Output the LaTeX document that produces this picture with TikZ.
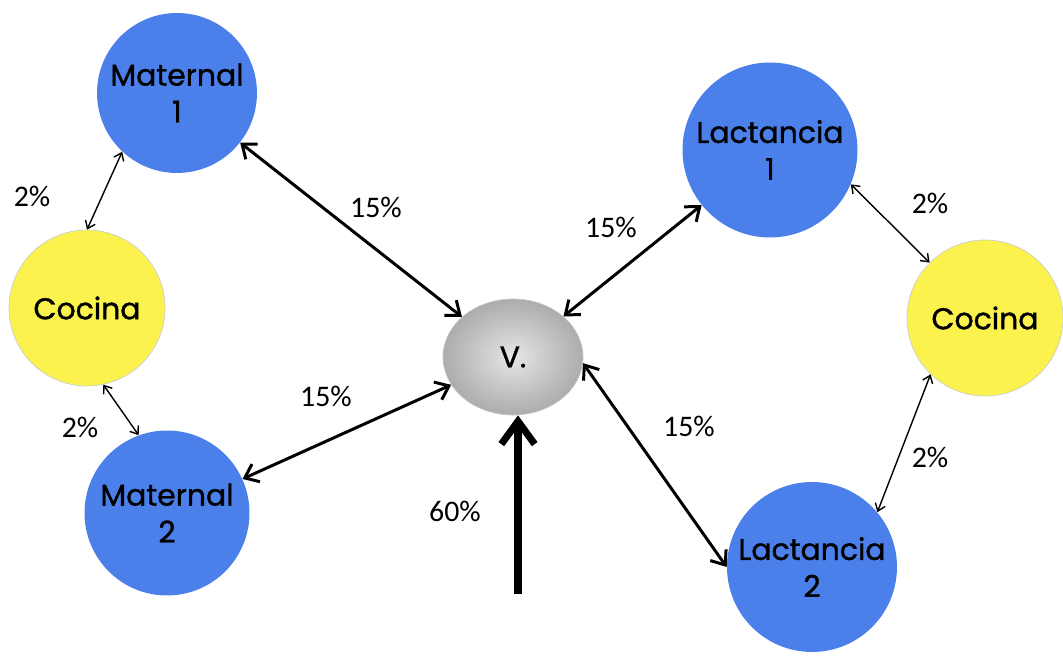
\documentclass[tikz,border=0pt]{standalone}
\usepackage{fontspec}
\setmainfont{Carlito}
\newfontfamily\chalk{Poppins}[FakeBold=1.2]
\usetikzlibrary{arrows.meta,shapes.geometric}
\definecolor{salablue}{HTML}{4B7FEA}
\definecolor{cocinayel}{HTML}{FBF24E}

\begin{document}
\begin{tikzpicture}[x=0.02cm,y=-0.02cm,
    sala/.style={circle, fill=salablue, minimum size=#1, align=center, font=\chalk\fontsize{17}{21}\selectfont, inner sep=0pt},
    cocina/.style={circle, fill=cocinayel, draw=gray!40, minimum size=3.12cm, font=\chalk\fontsize{17}{21}\selectfont},
    flujo/.style={<->, >={Straight Barb[length=7pt,width=11pt]}, line width=1.7pt},
    fino/.style={<->, >={Straight Barb[length=4pt,width=6pt]}, line width=0.8pt},
    pct/.style={font=\fontsize{17}{19}\selectfont}]
        \useasboundingbox (0,0) rectangle (1063,662);

        % Nodes
        \node[sala=3.2cm] (M1) at (177,93) {Maternal\\1};
        \node[cocina] (CL) at (87,308) {Cocina};
        \node[sala=3.3cm] (M2) at (167,513) {Maternal\\2};
        \node[ellipse, minimum width=2.8cm, minimum height=2.32cm, draw=gray!45,
              inner color=gray!20, outer color=gray!65, font=\chalk\fontsize{17}{21}\selectfont] (V) at (513,357) {V.};
        \node[sala=3.5cm] (L1) at (770,150) {Lactancia\\1};
        \node[cocina] (CR) at (985,318) {Cocina};
        \node[sala=3.4cm] (L2) at (812,567) {Lactancia\\2};

        % Main flows
        \draw[flujo] (M1) -- (V);
        \draw[flujo] (M2) -- (V);
        \draw[flujo] (L1) -- (V);
        \draw[flujo] (V.-5) -- (L2.180);

        % Kitchens
        \draw[fino] (M1.227) -- (CL.90);
        \draw[fino] (CL.282) -- (M2.110);
        \draw[fino] (L1.337) -- (CR.135);
        \draw[fino] (CR.226) -- (L2.40);

        % Entry
        \coordinate (ent) at (518,594);
        \draw[->, >={Straight Barb[length=13pt,width=19pt]}, line width=4pt] (ent) -- (V.south -| ent);

        % Labels
        \node[pct] (p1) at (376,207) {15\%};
        \node[pct] (p2) at (611,227) {15\%};
        \node[pct] (p3) at (326,396) {15\%};
        \node[pct] (p4) at (689,426) {15\%};
        \node[pct] (p5) at (32,196) {2\%};
        \node[pct] (p6) at (80,427) {2\%};
        \node[pct] (p7) at (930,203) {2\%};
        \node[pct] (p8) at (930,457) {2\%};
        \node[pct] (p9) at (455,511) {60\%};
    \end{tikzpicture}
\end{document}
